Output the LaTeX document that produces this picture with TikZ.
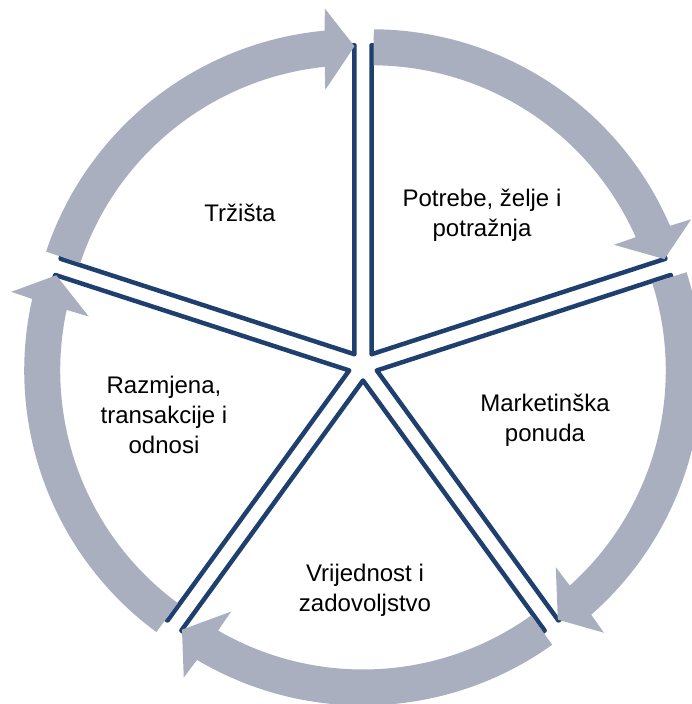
\documentclass[tikz,border=0pt]{standalone}
\usepackage{fontspec}
\setmainfont{Liberation Sans}
\definecolor{ringgray}{RGB}{169,175,191}
\definecolor{wedgeblue}{RGB}{31,63,110}
\begin{document}
\begin{tikzpicture}[x=1pt,y=1pt,
  wedge/.style={fill=white,draw=wedgeblue,line width=4.5pt,line join=round,line cap=round},
  ringarrow/.style={fill=ringgray,draw=none},
  lbl/.style={align=center,font=\fontsize{24}{30}\selectfont,text=black,inner sep=0pt}]
\useasboundingbox (0,0) rectangle (692,704);
\clip (0,0) rectangle (692,704);
\coordinate (C) at (363,338);
% wedges
\foreach \i in {0,...,4}{
  \pgfmathsetmacro{\s}{90-72*\i}
  \pgfmathsetmacro{\e}{\s-72}
  \pgfmathsetmacro{\b}{\s-36}
  \begin{scope}[shift={(C)},shift={(\b:14.5)}]
    \draw[wedge] (0,0) -- ({\s}:309) arc[start angle=\s, end angle=\e, radius=309] -- cycle;
  \end{scope}
}
% circular arrows
\foreach \i in {0,...,4}{
  \pgfmathsetmacro{\s}{90-72*\i}
  \pgfmathsetmacro{\e}{\s-72}
  \pgfmathsetmacro{\b}{\s-36}
  \pgfmathsetmacro{\sa}{\s-0.4}
  \pgfmathsetmacro{\eo}{\e+5.28}
  \pgfmathsetmacro{\ei}{\e+5.9}
  \begin{scope}[shift={(C)},shift={(\b:14.5)}]
    \fill[ringarrow] ({\sa}:289) -- ({\sa}:325)
      arc[start angle=\sa, end angle=\eo, radius=325]
      -- ({\e+4.9}:347) -- ({\e}:308) -- ({\e+6.3}:266) -- ({\ei}:289)
      arc[start angle=\ei, end angle=\sa, radius=289] -- cycle;
  \end{scope}
}
% labels
\node[lbl] (trz) at (240,491) {Tržišta};
\node[lbl] (pot) at (482,489) {Potrebe, želje i\\potražnja};
\node[lbl] (mar) at (545,284) {Marketinška\\ponuda};
\node[lbl] (vri) at (365,114) {Vrijednost i\\zadovoljstvo};
\node[lbl] (raz) at (164,289) {Razmjena,\\transakcije i\\odnosi};
\end{tikzpicture}
\end{document}
